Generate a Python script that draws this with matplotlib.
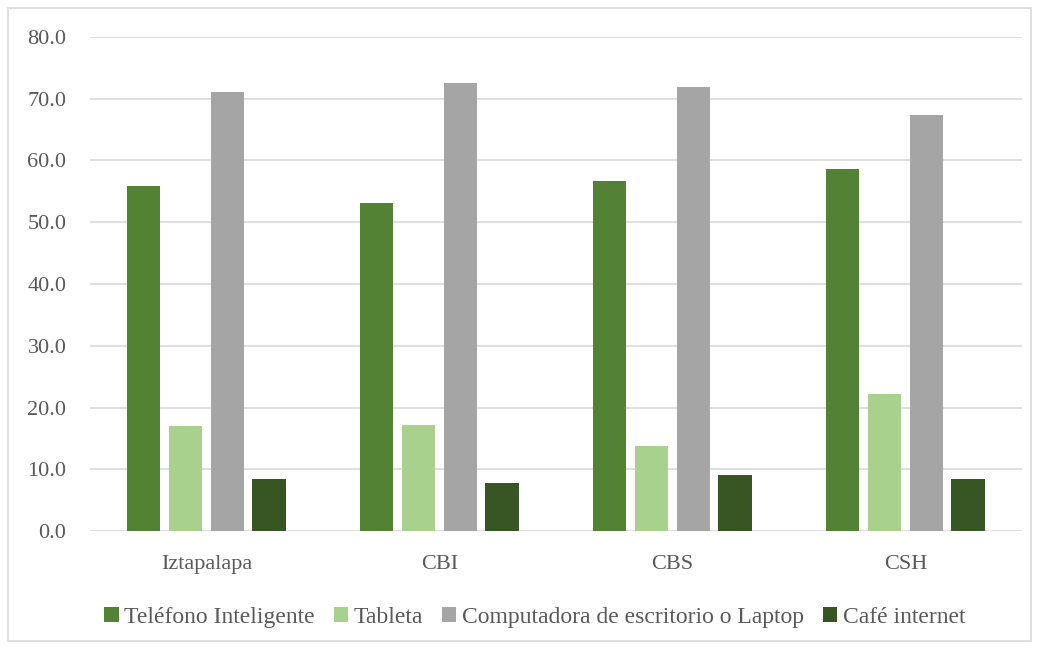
import numpy as np
import matplotlib.pyplot as plt
from matplotlib.patches import Rectangle

# Datos
categorias = ["Iztapalapa", "CBI", "CBS", "CSH"]
series = ["Teléfono Inteligente", "Tableta",
          "Computadora de escritorio o Laptop", "Café internet"]
telefono = [55.9, 53.1, 56.7, 58.6]
tableta = [17.0, 17.2, 13.8, 22.2]
computadora = [71.1, 72.6, 71.9, 67.4]
cafe = [8.4, 7.8, 9.1, 8.4]
yticks = [0, 10, 20, 30, 40, 50, 60, 70, 80]

valores = [telefono, tableta, computadora, cafe]
colores = ["#548235", "#A9D18E", "#A5A5A5", "#375623"]

plt.rcParams["font.family"] = ["Liberation Serif", "DejaVu Serif"]
texto = "#595959"

fig = plt.figure(figsize=(10.39, 6.49), dpi=100)
ax = fig.add_axes([0.0866, 0.1818, 0.897, 0.7612])

x = np.arange(len(categorias))
paso = 0.18
ancho = 0.145
for i, (nombre, vals) in enumerate(zip(series, valores)):
    ax.bar(x + (i - 1.5) * paso, vals, width=ancho, color=colores[i],
           label=nombre, zorder=3)

ax.set_xlim(-0.5, 3.5)
ax.set_ylim(0, 80)
ax.set_yticks(yticks)
ax.set_yticklabels([f"{v:.1f}" for v in yticks])
ax.set_xticks(x)
ax.set_xticklabels(categorias)
ax.tick_params(axis="both", length=0, labelsize=16, colors=texto)
ax.tick_params(axis="y", pad=17)
ax.tick_params(axis="x", pad=17)
ax.grid(axis="y", color="#D9D9D9", linewidth=1.2, zorder=0)
for s in ax.spines.values():
    s.set_visible(False)

fig.legend(loc="center", bbox_to_anchor=(0.515, 0.049), ncol=4, frameon=False,
           fontsize=17, labelcolor=texto, handlelength=0.6, handleheight=0.6,
           handletextpad=0.25, columnspacing=0.8)

fig.patches.append(Rectangle((8 / 1039, 8 / 649), 1023 / 1039, 633 / 649,
                             transform=fig.transFigure, fill=False,
                             edgecolor="#D9D9D9", linewidth=1.2))

fig.savefig("out.png", dpi=100)
